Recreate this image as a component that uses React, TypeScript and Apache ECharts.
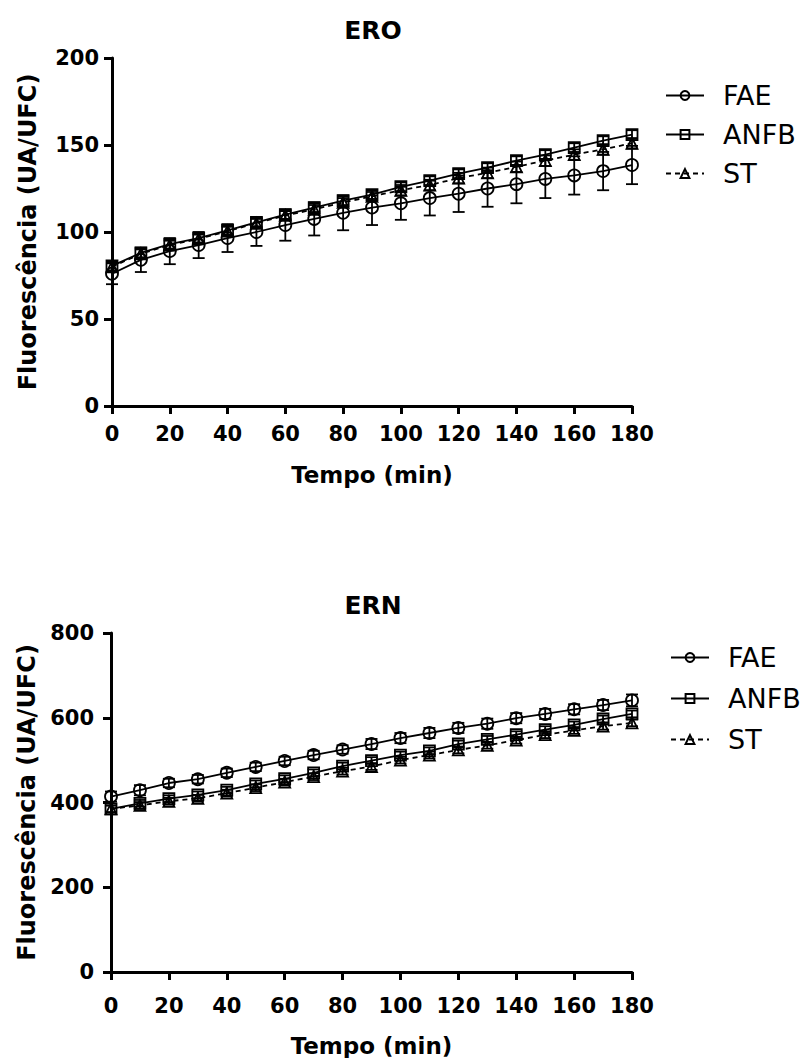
import React, { useEffect, useRef } from "react";
import * as echarts from "echarts";

const times = [0, 10, 20, 30, 40, 50, 60, 70, 80, 90, 100, 110, 120, 130, 140, 150, 160, 170, 180];
const seriesNames = ["FAE", "ANFB", "ST"];

// ERO panel
const eroFAE = [76, 84, 89, 92.5, 96.5, 100, 104, 107.5, 111, 114, 116.5, 119.5, 122, 125, 127.5, 130.5, 132.5, 135, 138.5];
const eroFAEsd = [6, 7, 7.5, 7.5, 8, 8, 9, 9.5, 10, 10, 9.5, 10, 10.5, 10.5, 11, 11, 11, 11, 11];
const eroANFB = [80.5, 88, 93, 96.5, 101, 105.5, 110, 114, 118, 121.5, 126, 129.5, 133.5, 137, 141, 144.5, 148.5, 152.5, 156];
const eroANFBsd = [2.5, 2.5, 2.5, 2.5, 2.5, 2.5, 2.5, 2.5, 2.5, 2.5, 2.5, 2.5, 2.5, 2.5, 2.5, 2.5, 2.5, 2.5, 2.5];
const eroST = [80, 87.5, 92.5, 96, 100.5, 105, 109.5, 113, 117, 120.5, 124, 127, 131, 134, 137.5, 141, 144.5, 147.5, 151];
const eroSTsd = [2.5, 2.5, 2.5, 2.5, 2.5, 2.5, 2.5, 2.5, 2.5, 2.5, 3, 3, 3, 3, 3, 3, 3, 3, 3];

// ERN panel
const ernFAE = [414, 429, 446, 455, 470, 484, 498, 512, 525, 538, 552, 564, 576, 586, 599, 609, 620, 630, 641];
const ernFAEsd = [12, 12, 10, 10, 10, 10, 10, 10, 10, 12, 12, 12, 12, 12, 12, 12, 12, 12, 14];
const ernANFB = [385, 398, 409, 418, 429, 444, 456, 470, 486, 499, 512, 522, 538, 549, 560, 572, 583, 597, 609];
const ernANFBsd = [8, 8, 8, 8, 8, 8, 8, 8, 8, 8, 8, 8, 8, 8, 8, 8, 8, 8, 8];
const ernST = [385, 393, 403, 410, 422, 435, 448, 461, 474, 485, 500, 512, 524, 535, 547, 560, 570, 580, 588];
const ernSTsd = [8, 8, 8, 8, 8, 8, 8, 8, 8, 8, 8, 8, 8, 8, 8, 8, 8, 8, 8];

const titles = ["ERO", "ERN"];
const xName = "Tempo (min)";
const yName = "Fluorescência (UA/UFC)";

const FONT = "'DejaVu Sans', Verdana, sans-serif";

const symbols = ["circle", "rect", "triangle"];
const symbolSizes = [12, 11, 11];
const lineTypes: any[] = ["solid", "solid", [5, 4]];

export default function App() {
  const ref = useRef<HTMLDivElement>(null);
  useEffect(() => {
    document.body.style.margin = "0";
    const chart = echarts.init(ref.current!, null, { renderer: "svg" });

    const panels = [
      { means: [eroFAE, eroANFB, eroST], sds: [eroFAEsd, eroANFBsd, eroSTsd] },
      { means: [ernFAE, ernANFB, ernST], sds: [ernFAEsd, ernANFBsd, ernSTsd] },
    ];

    const series: any[] = [];
    panels.forEach((p, pi) => {
      p.means.forEach((m, si) => {
        series.push({
          type: "custom",
          name: seriesNames[si] + "-err-" + pi,
          xAxisIndex: pi,
          yAxisIndex: pi,
          z: 1,
          silent: true,
          encode: { x: 0, y: 1 },
          data: times.map((t, i) => [t, m[i], p.sds[si][i]]),
          renderItem: (params: any, api: any) => {
            const x = api.value(0);
            const v = api.value(1);
            const e = api.value(2);
            const top = api.coord([x, v + e]);
            const bot = api.coord([x, v - e]);
            const hw = 6;
            const st = { stroke: "#000", lineWidth: 1.8, fill: "none" };
            return {
              type: "group",
              children: [
                { type: "line", shape: { x1: top[0], y1: top[1], x2: bot[0], y2: bot[1] }, style: st },
                { type: "line", shape: { x1: top[0] - hw, y1: top[1], x2: top[0] + hw, y2: top[1] }, style: st },
                { type: "line", shape: { x1: bot[0] - hw, y1: bot[1], x2: bot[0] + hw, y2: bot[1] }, style: st },
              ],
            };
          },
        });
        series.push({
          type: "line",
          name: seriesNames[si],
          xAxisIndex: pi,
          yAxisIndex: pi,
          z: 3,
          data: times.map((t, i) => [t, m[i]]),
          symbol: symbols[si],
          symbolSize: symbolSizes[si],
          showAllSymbol: true,
          lineStyle: { color: "#000", width: 1.8, type: lineTypes[si] },
          itemStyle: { color: "rgba(255,255,255,0)", borderColor: "#000", borderWidth: 1.8 },
          emphasis: { disabled: true },
        });
      });
    });

    const grids = [
      { left: 112, top: 58, width: 520, height: 348 },
      { left: 111, top: 633, width: 521, height: 344 },
    ];
    const yMax = [200, 800];
    const yInt = [50, 200];
    const xLabelMargin = [17, 23];
    const xNameGap = [57, 62];
    const yLabelMargin = [13, 17];
    const yNameGap = [72, 71];

    const axisCommon = {
      axisLine: { lineStyle: { color: "#000", width: 3 } },
      axisTick: { show: true, length: 8, lineStyle: { color: "#000", width: 3 } },
      splitLine: { show: false },
    };

    chart.setOption({
      animation: false,
      backgroundColor: "#fff",
      title: titles.map((t, i) => ({
        text: t,
        left: 373,
        top: i === 0 ? 18 : 593,
        padding: 0,
        textAlign: "center",
        textStyle: { fontFamily: FONT, fontWeight: "bold", fontSize: 25, color: "#000" },
      })),
      legend: [
        { top: 82, left: 665, itemGap: 12 },
        { top: 644, left: 670, itemGap: 14 },
      ].map((l) => ({
        data: seriesNames,
        orient: "vertical",
        left: l.left,
        top: l.top,
        padding: 0,
        itemGap: l.itemGap,
        itemWidth: 38,
        itemHeight: 11,
        selectedMode: false,
        textStyle: { fontFamily: FONT, fontSize: 27, color: "#000", padding: [0, 0, 0, 14] },
      })),
      grid: grids,
      xAxis: grids.map((g, i) => ({
        type: "value",
        gridIndex: i,
        min: 0,
        max: 180,
        interval: 20,
        name: xName,
        nameLocation: "middle",
        nameGap: xNameGap[i],
        nameTextStyle: { fontFamily: FONT, fontWeight: "bold", fontSize: 23, color: "#000" },
        axisLabel: { fontFamily: FONT, fontWeight: "bold", fontSize: 21, color: "#000", margin: xLabelMargin[i] },
        ...axisCommon,
      })),
      yAxis: grids.map((g, i) => ({
        type: "value",
        gridIndex: i,
        min: 0,
        max: yMax[i],
        interval: yInt[i],
        name: yName,
        nameLocation: "middle",
        nameGap: yNameGap[i],
        nameRotate: 90,
        nameTextStyle: { fontFamily: FONT, fontWeight: "bold", fontSize: 24, color: "#000" },
        axisLabel: { fontFamily: FONT, fontWeight: "bold", fontSize: 21, color: "#000", margin: yLabelMargin[i] },
        ...axisCommon,
      })),
      series,
    });
    return () => chart.dispose();
  }, []);
  return <div ref={ref} style={{ width: 807, height: 1058 }} />;
}
